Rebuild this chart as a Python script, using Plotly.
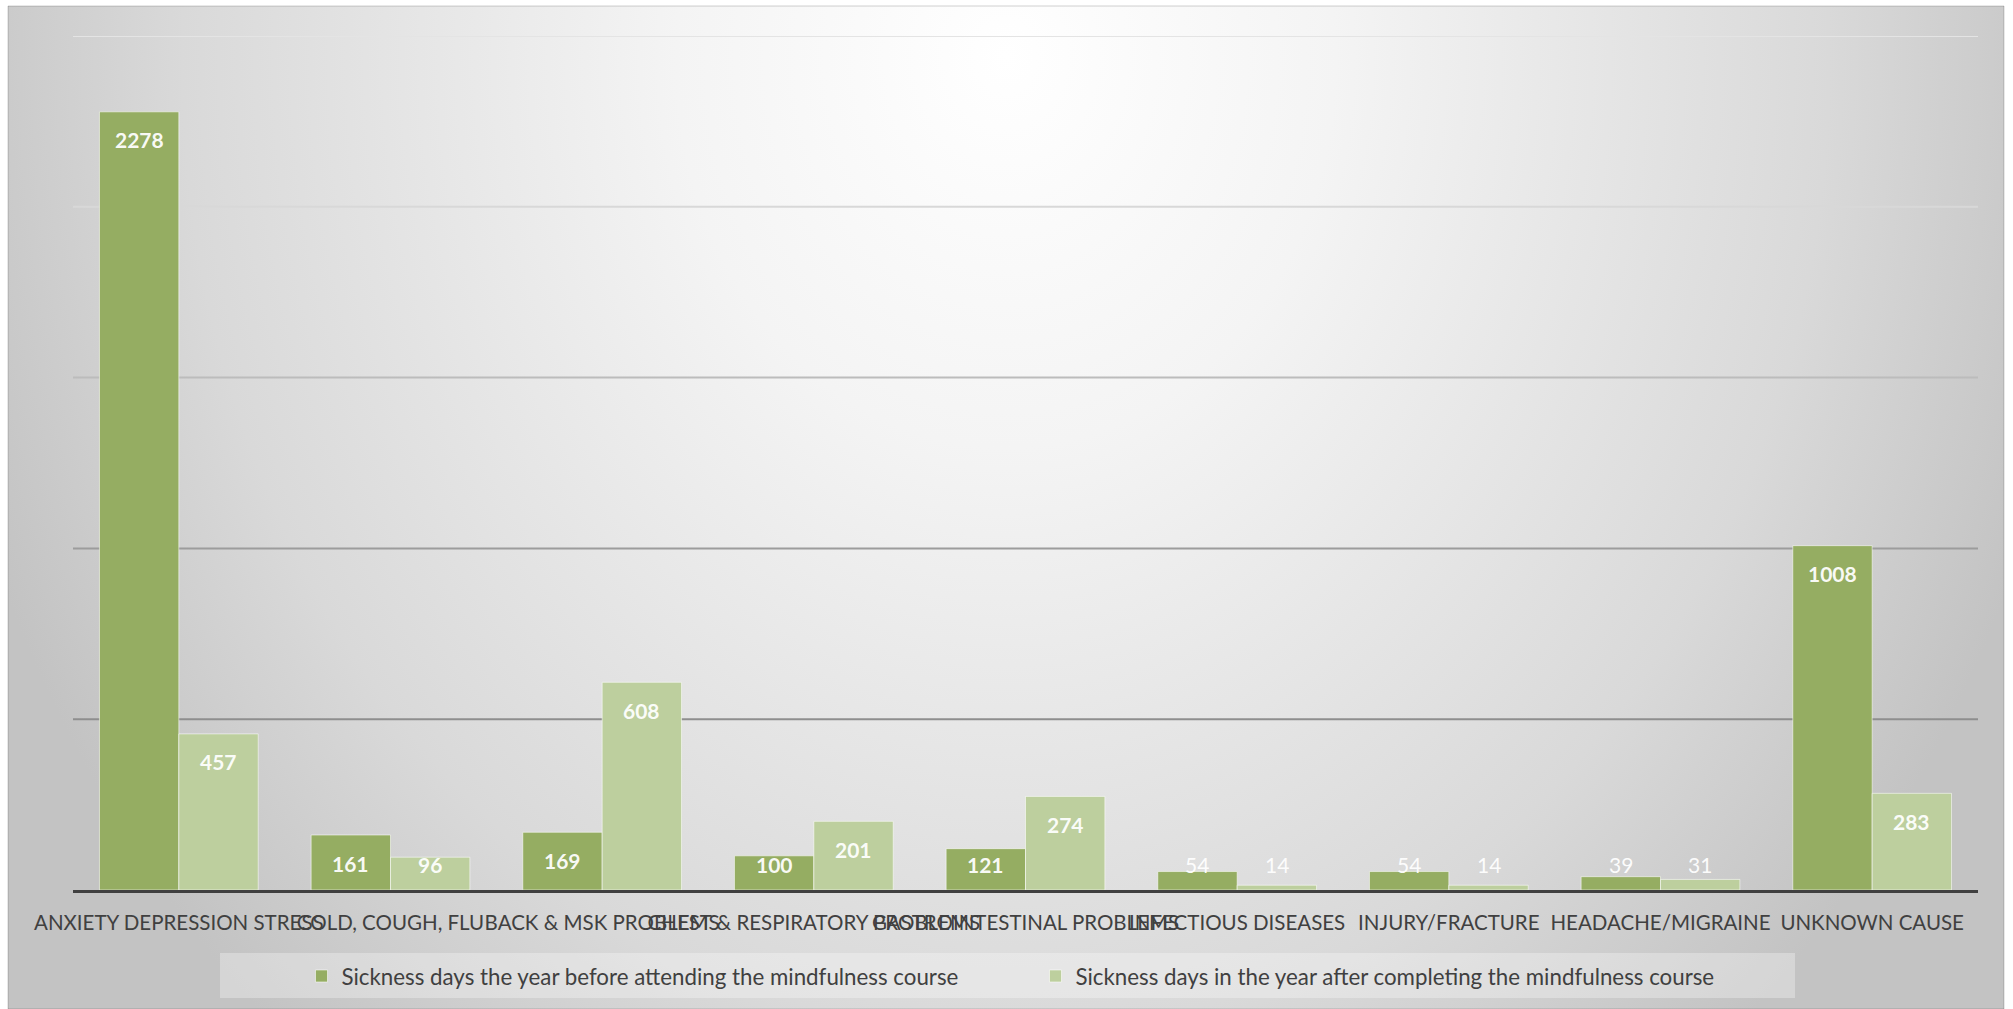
import base64
import plotly.graph_objects as go

# ---------------- data ----------------
categories = [
    "ANXIETY DEPRESSION STRESS",
    "COLD, COUGH, FLU",
    "BACK & MSK PROBLEMS",
    "CHEST & RESPIRATORY PROBLEMS",
    "GASTROINTESTINAL PROBLEMS",
    "INFECTIOUS DISEASES",
    "INJURY/FRACTURE",
    "HEADACHE/MIGRAINE",
    "UNKNOWN CAUSE",
]
before_values = [2278, 161, 169, 100, 121, 54, 54, 39, 1008]
after_values = [457, 96, 608, 201, 274, 14, 14, 31, 283]
series_names = [
    "Sickness days the year before attending the mindfulness course",
    "Sickness days in the year after completing the mindfulness course",
]
grid_ticks = [500, 1000, 1500, 2000, 2500]

# ---------------- styling ----------------
W, H = 2013, 1009
ML, MR, MT, MB = 73, 35, 36, 119
PW, PH = W - ML - MR, H - MT - MB
YMAX = 2500
BARGAP = 0.25
FONT = "Lato"
TEXT_COLOR = "#404040"
DARK = "#95ad62"
LIGHT = "#bdcf9e"
grid_colors = ["#8e8e8e", "#9c9c9c", "#bcbcbc", "#d8d8d8", "#e4e4e4"]


def px_to_paper_x(px):
    return (px - ML) / PW


def px_to_paper_y(py):
    return (H - MB - py) / PH


# radial gradient background (Excel style) as an SVG image
fx0, fy0, fx1, fy1 = 8, 6, 2004, 1009
gw, gh = fx1 - fx0, fy1 - fy0
cx, cy = gw * 0.5, gh * 0.05
r = gw * 0.55
sy = (gh * 1.3) / r
svg = f"""<svg xmlns='http://www.w3.org/2000/svg' width='{gw}' height='{gh}' viewBox='0 0 {gw} {gh}' preserveAspectRatio='none'>
<defs><radialGradient id='g' gradientUnits='userSpaceOnUse' cx='{cx}' cy='{cy}' r='{r}'
gradientTransform='translate({cx},{cy}) scale(1,{sy}) translate({-cx},{-cy})'>
<stop offset='0' stop-color='#ffffff'/>
<stop offset='0.3' stop-color='#f4f4f4'/>
<stop offset='0.75' stop-color='#d9d9d9'/>
<stop offset='1' stop-color='#c3c3c3'/>
</radialGradient></defs>
<rect x='0' y='0' width='{gw}' height='{gh}' fill='url(#g)'/>
</svg>"""
svg_uri = "data:image/svg+xml;base64," + base64.b64encode(svg.encode()).decode()

fig = go.Figure()
colors = [DARK, LIGHT]
for name, vals, col in zip(series_names, [before_values, after_values], colors):
    fig.add_trace(go.Bar(
        name=name, x=categories, y=vals,
        marker=dict(color=col, line=dict(color="rgba(255,255,255,0.55)", width=1)),
        hoverinfo="x+y",
    ))

# data labels (Excel "inside end", clamped near the baseline)
ppu = PH / YMAX
bar_w = PW / len(categories) * (1 - BARGAP) / 2
annotations = []
for si, vals in enumerate([before_values, after_values]):
    xshift = (-0.5 if si == 0 else 0.5) * bar_w
    for cat, v in zip(categories, vals):
        inside = v * ppu - 28 >= 26
        bold = v >= 90
        txt = f"<b>{v}</b>" if bold else f"{v}"
        if inside:
            y, ys = v, -28
        else:
            y, ys = 0, 26
        annotations.append(dict(
            x=cat, y=y, xref="x", yref="y", xshift=xshift, yshift=ys,
            text=txt, showarrow=False, yanchor="middle", xanchor="center",
            font=dict(family=FONT, size=21, color="rgba(255,255,255,0.95)"),
        ))

shapes = []
# chart frame
shapes.append(dict(type="rect", xref="paper", yref="paper",
                   x0=px_to_paper_x(fx0), x1=px_to_paper_x(fx1),
                   y0=px_to_paper_y(fy1), y1=px_to_paper_y(fy0),
                   line=dict(color="rgba(0,0,0,0.18)", width=1),
                   fillcolor="rgba(0,0,0,0)", layer="below"))
# legend backdrop
shapes.append(dict(type="rect", xref="paper", yref="paper",
                   x0=px_to_paper_x(220), x1=px_to_paper_x(1795),
                   y0=px_to_paper_y(998), y1=px_to_paper_y(953),
                   line=dict(width=0), fillcolor="rgba(255,255,255,0.3)", layer="below"))
# gridlines
for t, c in zip(grid_ticks, grid_colors):
    shapes.append(dict(type="line", xref="paper", yref="y", x0=0, x1=1, y0=t, y1=t,
                       line=dict(color=c, width=2), layer="below"))

fig.update_layout(
    width=W, height=H,
    margin=dict(l=ML, r=MR, t=MT, b=MB, pad=0),
    paper_bgcolor="#ffffff",
    plot_bgcolor="rgba(0,0,0,0)",
    barmode="group", bargap=BARGAP, bargroupgap=0,
    font=dict(family=FONT, size=20.5, color=TEXT_COLOR),
    showlegend=True,
    legend=dict(orientation="h", x=0.5 + 10 / PW, xanchor="center",
                y=px_to_paper_y(976), yanchor="middle",
                bgcolor="rgba(0,0,0,0)", font=dict(family=FONT, size=22.3, color=TEXT_COLOR),
                entrywidth=689, entrywidthmode="pixels", itemclick=False),
    xaxis=dict(tickangle=0, showgrid=False, showline=True, linecolor="#404040", linewidth=3,
               ticks="", ticklabelstandoff=12,
               tickfont=dict(family=FONT, size=20.5, color=TEXT_COLOR), fixedrange=True),
    yaxis=dict(range=[0, YMAX], showgrid=False, zeroline=False, showticklabels=False,
               ticks="", showline=False, fixedrange=True),
    images=[dict(source=svg_uri, xref="paper", yref="paper",
                 x=px_to_paper_x(fx0), y=px_to_paper_y(fy0),
                 sizex=(fx1 - fx0) / PW, sizey=(fy1 - fy0) / PH,
                 xanchor="left", yanchor="top", sizing="stretch", layer="below")],
    shapes=shapes,
    annotations=annotations,
)

fig.write_html("out.html", config={"displayModeBar": False},
               post_script="document.body.style.margin='0';document.body.style.overflow='hidden';")
